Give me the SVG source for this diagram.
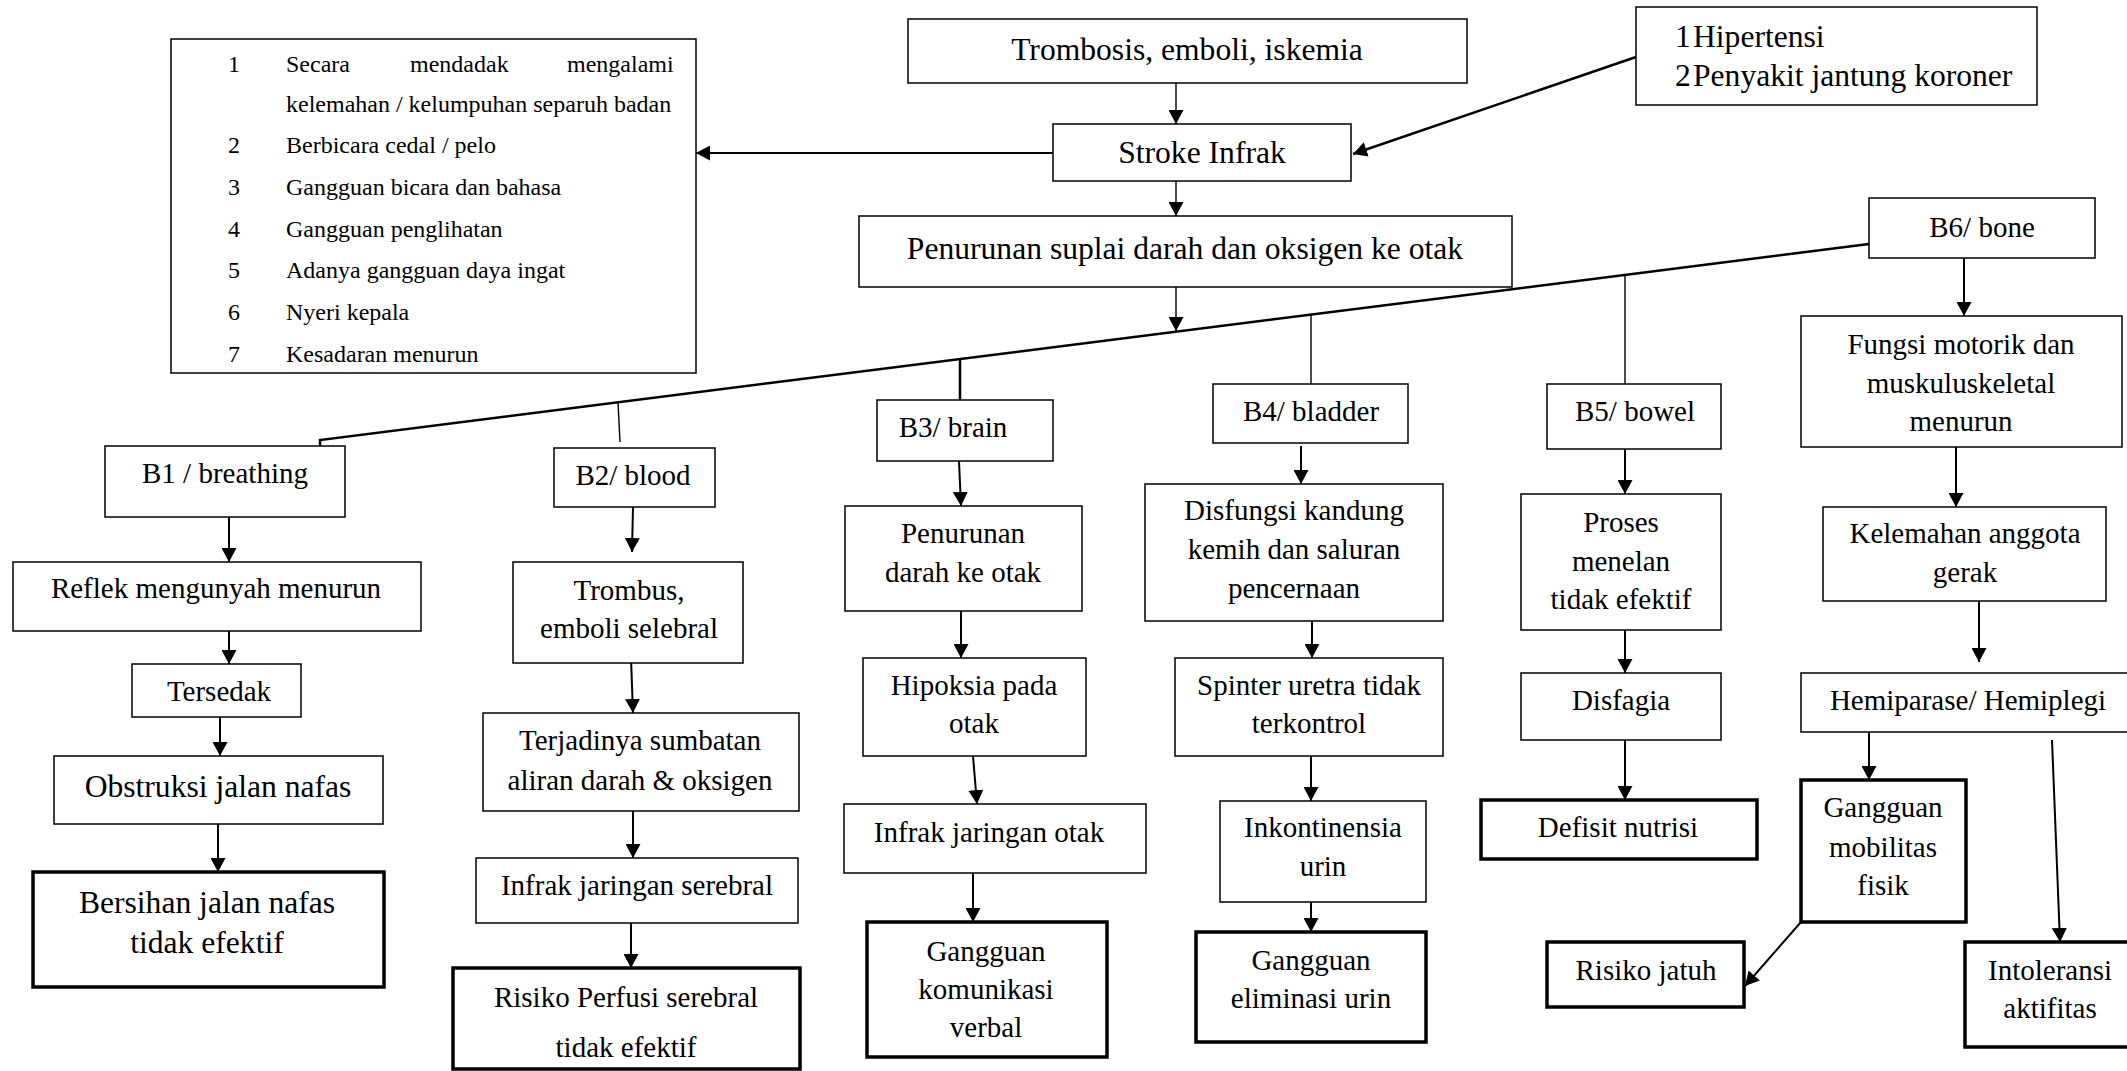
<svg xmlns="http://www.w3.org/2000/svg" width="2127" height="1071" viewBox="0 0 2127 1071">
<style>
  text { font-family: "Liberation Serif", "Times New Roman", serif; fill: #000; }
  .t { font-size: 29px; text-anchor: middle; }
  .L { font-size: 31.6px; text-anchor: middle; }
  .s { font-size: 24px; }
  .n { font-size: 24px; text-anchor: middle; }
  rect.b, rect.k { fill: #fff; stroke: #000; }
  .b { stroke-width: 1.5; }
  .k { stroke-width: 3.5; }
  .c line, .c path, .c polyline { fill: none; stroke: #000; }
  .a { stroke-width: 2; marker-end: url(#ah); }
  .a1 { stroke-width: 1.4; marker-end: url(#ah); }
  .d { stroke-width: 1.4; }
  .w { stroke-width: 2.5; }
</style>
<defs>
  <marker id="ah" markerUnits="userSpaceOnUse" markerWidth="15" markerHeight="15" refX="14" refY="7.5" orient="auto">
    <path d="M0,0 L14,7.5 L0,15 z" fill="#000"/>
  </marker>
</defs>
<rect x="0" y="0" width="2127" height="1071" fill="#fff"/>

<g class="c" id="connectors">
  <line class="a1" x1="1176" y1="68" x2="1176" y2="124"/>
  <line class="a" x1="1053" y1="153" x2="696" y2="153"/>
  <line class="a w" x1="1636" y1="57" x2="1353" y2="154"/>
  <line class="a1" x1="1176" y1="181" x2="1176" y2="216"/>
  <line class="a1" x1="1176" y1="287" x2="1176" y2="331"/>
  <polyline class="w" points="1869,244 320,440 320,446"/>
  <line class="d" x1="618" y1="402" x2="620" y2="442"/>
  <line class="w" x1="960" y1="359" x2="960" y2="400"/>
  <line class="d" x1="1311" y1="315" x2="1311" y2="400"/>
  <line class="d" x1="1625" y1="275" x2="1625" y2="384"/>
  <line class="a" x1="1964" y1="258" x2="1964" y2="316"/>
  <line class="a" x1="229" y1="517" x2="229" y2="562"/>
  <line class="a" x1="229" y1="631" x2="229" y2="664"/>
  <line class="a" x1="220" y1="717" x2="220" y2="756"/>
  <line class="a" x1="218" y1="824" x2="218" y2="872"/>
  <line class="a" x1="633" y1="507" x2="632" y2="552"/>
  <line class="a" x1="631" y1="658" x2="633" y2="713"/>
  <line class="a" x1="633" y1="811" x2="633" y2="858"/>
  <line class="a" x1="631" y1="923" x2="631" y2="968"/>
  <line class="a" x1="959" y1="461" x2="961" y2="506"/>
  <line class="a" x1="961" y1="611" x2="961" y2="658"/>
  <line class="a" x1="973" y1="756" x2="977" y2="804"/>
  <line class="a" x1="973" y1="873" x2="973" y2="922"/>
  <line class="a" x1="1301" y1="446" x2="1301" y2="484"/>
  <line class="a" x1="1312" y1="621" x2="1312" y2="658"/>
  <line class="a" x1="1311" y1="756" x2="1311" y2="801"/>
  <line class="a" x1="1311" y1="888" x2="1311" y2="932"/>
  <line class="a" x1="1625" y1="449" x2="1625" y2="494"/>
  <line class="a" x1="1625" y1="630" x2="1625" y2="673"/>
  <line class="a" x1="1625" y1="740" x2="1625" y2="800"/>
  <line class="a" x1="1956" y1="447" x2="1956" y2="507"/>
  <line class="a" x1="1979" y1="601" x2="1979" y2="662"/>
  <line class="a" x1="1869" y1="732" x2="1869" y2="780"/>
  <line class="a" x1="1801" y1="922" x2="1745" y2="986"/>
  <line class="a" x1="2052" y1="740" x2="2060" y2="942"/>
</g>

<g id="n-list">
  <rect class="b" x="171" y="39" width="525" height="334"/>
  <text class="n" x="234" y="72">1</text>
  <text class="s" y="72"><tspan x="286">Secara</tspan><tspan x="410">mendadak</tspan><tspan x="567">mengalami</tspan></text>
  <text class="s" x="286" y="112">kelemahan / kelumpuhan separuh badan</text>
  <text class="n" x="234" y="153">2</text>
  <text class="s" x="286" y="153">Berbicara cedal / pelo</text>
  <text class="n" x="234" y="195">3</text>
  <text class="s" x="286" y="195">Gangguan bicara dan bahasa</text>
  <text class="n" x="234" y="237">4</text>
  <text class="s" x="286" y="237">Gangguan penglihatan</text>
  <text class="n" x="234" y="278">5</text>
  <text class="s" x="286" y="278">Adanya gangguan daya ingat</text>
  <text class="n" x="234" y="320">6</text>
  <text class="s" x="286" y="320">Nyeri kepala</text>
  <text class="n" x="234" y="362">7</text>
  <text class="s" x="286" y="362">Kesadaran menurun</text>
</g>

<g id="n-trombosis">
  <rect class="b" x="908" y="19" width="559" height="64"/>
  <text class="L" x="1187" y="60">Trombosis, emboli, iskemia</text>
</g>
<g id="n-hipertensi">
  <rect class="b" x="1636" y="7" width="401" height="98"/>
  <text style="font-size:31.6px" y="47"><tspan x="1675">1</tspan><tspan x="1693">Hipertensi</tspan></text>
  <text style="font-size:31.6px" y="86"><tspan x="1675">2</tspan><tspan x="1693">Penyakit jantung koroner</tspan></text>
</g>
<g id="n-stroke">
  <rect class="b" x="1053" y="124" width="298" height="57"/>
  <text class="L" x="1202" y="163">Stroke Infrak</text>
</g>
<g id="n-penurunan-suplai">
  <rect class="b" x="859" y="216" width="653" height="71"/>
  <text class="L" x="1185" y="259">Penurunan suplai darah dan oksigen ke otak</text>
</g>
<g id="n-b6">
  <rect class="b" x="1869" y="198" width="226" height="60"/>
  <text class="t" x="1982" y="237">B6/ bone</text>
</g>

<g id="n-b1">
  <rect class="b" x="105" y="446" width="240" height="71"/>
  <text class="t" x="225" y="483">B1 / breathing</text>
</g>
<g id="n-reflek">
  <rect class="b" x="13" y="562" width="408" height="69"/>
  <text class="t" x="216" y="598">Reflek mengunyah menurun</text>
</g>
<g id="n-tersedak">
  <rect class="b" x="132" y="664" width="169" height="53"/>
  <text class="t" x="219" y="701">Tersedak</text>
</g>
<g id="n-obstruksi">
  <rect class="b" x="54" y="756" width="329" height="68"/>
  <text class="L" x="218" y="797">Obstruksi jalan nafas</text>
</g>
<g id="n-bersihan">
  <rect class="k" x="33" y="872" width="351" height="115"/>
  <text class="L" x="207" y="913">Bersihan jalan nafas</text>
  <text class="L" x="207" y="953">tidak efektif</text>
</g>

<g id="n-b2">
  <rect class="b" x="554" y="448" width="161" height="59"/>
  <text class="t" x="633" y="485">B2/ blood</text>
</g>
<g id="n-trombus">
  <rect class="b" x="513" y="562" width="230" height="101"/>
  <text class="t" x="629" y="600">Trombus,</text>
  <text class="t" x="629" y="638">emboli selebral</text>
</g>
<g id="n-terjadinya">
  <rect class="b" x="483" y="713" width="316" height="98"/>
  <text class="t" x="640" y="750">Terjadinya sumbatan</text>
  <text class="t" x="640" y="790">aliran darah &amp; oksigen</text>
</g>
<g id="n-infrak-serebral">
  <rect class="b" x="476" y="858" width="322" height="65"/>
  <text class="t" x="637" y="895">Infrak jaringan serebral</text>
</g>
<g id="n-risiko-perfusi">
  <rect class="k" x="453" y="968" width="347" height="101"/>
  <text class="t" x="626" y="1007">Risiko Perfusi serebral</text>
  <text class="t" x="626" y="1057">tidak efektif</text>
</g>

<g id="n-b3">
  <rect class="b" x="877" y="400" width="176" height="61"/>
  <text class="t" x="953" y="437">B3/ brain</text>
</g>
<g id="n-penurunan-darah">
  <rect class="b" x="845" y="506" width="237" height="105"/>
  <text class="t" x="963" y="543">Penurunan</text>
  <text class="t" x="963" y="582">darah ke otak</text>
</g>
<g id="n-hipoksia">
  <rect class="b" x="863" y="658" width="223" height="98"/>
  <text class="t" x="974" y="695">Hipoksia pada</text>
  <text class="t" x="974" y="733">otak</text>
</g>
<g id="n-infrak-otak">
  <rect class="b" x="844" y="804" width="302" height="69"/>
  <text class="t" x="989" y="842">Infrak jaringan otak</text>
</g>
<g id="n-komunikasi">
  <rect class="k" x="867" y="922" width="240" height="135"/>
  <text class="t" x="986" y="961">Gangguan</text>
  <text class="t" x="986" y="999">komunikasi</text>
  <text class="t" x="986" y="1037">verbal</text>
</g>

<g id="n-b4">
  <rect class="b" x="1213" y="384" width="195" height="59"/>
  <text class="t" x="1311" y="421">B4/ bladder</text>
</g>
<g id="n-disfungsi">
  <rect class="b" x="1145" y="484" width="298" height="137"/>
  <text class="t" x="1294" y="520">Disfungsi kandung</text>
  <text class="t" x="1294" y="559">kemih dan saluran</text>
  <text class="t" x="1294" y="598">pencernaan</text>
</g>
<g id="n-spinter">
  <rect class="b" x="1175" y="658" width="268" height="98"/>
  <text class="t" x="1309" y="695">Spinter uretra tidak</text>
  <text class="t" x="1309" y="733">terkontrol</text>
</g>
<g id="n-inkontinensia">
  <rect class="b" x="1220" y="801" width="206" height="101"/>
  <text class="t" x="1323" y="837">Inkontinensia</text>
  <text class="t" x="1323" y="876">urin</text>
</g>
<g id="n-eliminasi">
  <rect class="k" x="1196" y="932" width="230" height="110"/>
  <text class="t" x="1311" y="970">Gangguan</text>
  <text class="t" x="1311" y="1008">eliminasi urin</text>
</g>

<g id="n-b5">
  <rect class="b" x="1547" y="384" width="174" height="65"/>
  <text class="t" x="1635" y="421">B5/ bowel</text>
</g>
<g id="n-proses">
  <rect class="b" x="1521" y="494" width="200" height="136"/>
  <text class="t" x="1621" y="532">Proses</text>
  <text class="t" x="1621" y="571">menelan</text>
  <text class="t" x="1621" y="609">tidak efektif</text>
</g>
<g id="n-disfagia">
  <rect class="b" x="1521" y="673" width="200" height="67"/>
  <text class="t" x="1621" y="710">Disfagia</text>
</g>
<g id="n-defisit">
  <rect class="k" x="1481" y="800" width="276" height="59"/>
  <text class="t" x="1618" y="837">Defisit nutrisi</text>
</g>

<g id="n-fungsi">
  <rect class="b" x="1801" y="316" width="321" height="131"/>
  <text class="t" x="1961" y="354">Fungsi motorik dan</text>
  <text class="t" x="1961" y="393">muskuluskeletal</text>
  <text class="t" x="1961" y="431">menurun</text>
</g>
<g id="n-kelemahan">
  <rect class="b" x="1823" y="507" width="283" height="94"/>
  <text class="t" x="1965" y="543">Kelemahan anggota</text>
  <text class="t" x="1965" y="582">gerak</text>
</g>
<g id="n-hemiparase">
  <rect class="b" x="1801" y="673" width="330" height="59"/>
  <text class="t" x="1968" y="710">Hemiparase/ Hemiplegi</text>
</g>
<g id="n-mobilitas">
  <rect class="k" x="1801" y="780" width="165" height="142"/>
  <text class="t" x="1883" y="817">Gangguan</text>
  <text class="t" x="1883" y="857">mobilitas</text>
  <text class="t" x="1883" y="895">fisik</text>
</g>
<g id="n-risiko-jatuh">
  <rect class="k" x="1547" y="942" width="197" height="65"/>
  <text class="t" x="1646" y="980">Risiko jatuh</text>
</g>
<g id="n-intoleransi">
  <rect class="k" x="1965" y="942" width="175" height="105"/>
  <text class="t" x="2050" y="980">Intoleransi</text>
  <text class="t" x="2050" y="1018">aktifitas</text>
</g>
</svg>
